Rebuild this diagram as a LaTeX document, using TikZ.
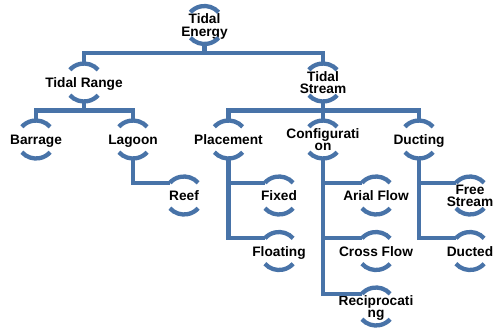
\documentclass[tikz,border=0pt]{standalone}
\usepackage{fontspec}
\setmainfont{Liberation Sans}
\definecolor{arcblue}{RGB}{72,115,168}
\begin{document}
\begin{tikzpicture}[x=1pt,y=1pt,
  hn/.style={circle,minimum size=38pt,inner sep=0pt,outer sep=0pt},
  labfont/.style={font=\bfseries\fontsize{13.7}{12.5}\selectfont,inner sep=0pt,text=black},
  lab/.style={labfont,text height=10.8pt,text depth=0pt},
  labtwo/.style={labfont,align=center,text height=22.6pt,text depth=0pt},
  conn/.style={draw=arcblue,line width=4.3pt},
  arcln/.style={draw=arcblue,line width=4.3pt}]
\useasboundingbox[fill=white] (0,0) rectangle (494,-330);

\node[hn,label={[labtwo,name=te-t]center:{Tidal\\Energy}}] (te) at (204.5,-25) {};
\node[hn,label={[lab,name=tr-t]center:Tidal Range}] (tr) at (84,-82.5) {};
\node[hn,label={[labtwo,name=ts-t]center:{Tidal\\Stream}}] (ts) at (323,-82.5) {};
\node[hn,label={[lab,name=ba-t]center:Barrage}] (ba) at (36,-139.5) {};
\node[hn,label={[lab,name=la-t]center:Lagoon}] (la) at (133,-139.5) {};
\node[hn,label={[lab,name=pl-t]center:Placement}] (pl) at (228.5,-139.5) {};
\node[hn,label={[labtwo,name=co-t]center:{Configurati\\on}}] (co) at (323,-139.5) {};
\node[hn,label={[lab,name=du-t]center:Ducting}] (du) at (419,-139.5) {};
\node[hn,label={[lab,name=re-t]center:Reef}] (re) at (184,-195.5) {};
\node[hn,label={[lab,name=fx-t]center:Fixed}] (fx) at (279,-195.5) {};
\node[hn,label={[lab,name=fl-t]center:Floating}] (fl) at (279,-251) {};
\node[hn,label={[lab,name=ar-t]center:Arial Flow}] (ar) at (376,-195.5) {};
\node[hn,label={[lab,name=cr-t]center:Cross Flow}] (cr) at (376,-251) {};
\node[hn,label={[labtwo,name=rc-t]center:{Reciprocati\\ng}}] (rc) at (376,-306.5) {};
\node[hn,label={[labtwo,name=fs-t]center:{Free\\Stream}}] (fs) at (470,-195.5) {};
\node[hn,label={[lab,name=dc-t]center:Ducted}] (dc) at (470,-251) {};

\foreach \n in {te,tr,ts,ba,la,pl,co,du,re,fx,fl,ar,cr,rc,fs,dc}{
  \draw[arcln] (\n.42) arc[start angle=42,end angle=138,radius=19pt];
  \draw[arcln] (\n.222) arc[start angle=222,end angle=318,radius=19pt];
}

\draw[conn] (te.south) -- ++(0,-9) -| (tr.north);
\draw[conn] (te.south) -- ++(0,-9) -| (ts.north);
\draw[conn] (tr.south) -- ++(0,-9) -| (ba.north);
\draw[conn] (tr.south) -- ++(0,-9) -| (la.north);
\draw[conn] (ts.south) -- ++(0,-9) -| (pl.north);
\draw[conn] (ts.south) -- ++(0,-9) -| (co.north);
\draw[conn] (ts.south) -- ++(0,-9) -| (du.north);
\draw[conn] (la.south) |- (re.138);
\draw[conn] (pl.south) |- (fx.138);
\draw[conn] (pl.south) |- (fl.138);
\draw[conn] (co.south) |- (ar.138);
\draw[conn] (co.south) |- (cr.138);
\draw[conn] (co.south) |- (rc.138);
\draw[conn] (du.south) |- (fs.138);
\draw[conn] (du.south) |- (dc.138);
\end{tikzpicture}
\end{document}
